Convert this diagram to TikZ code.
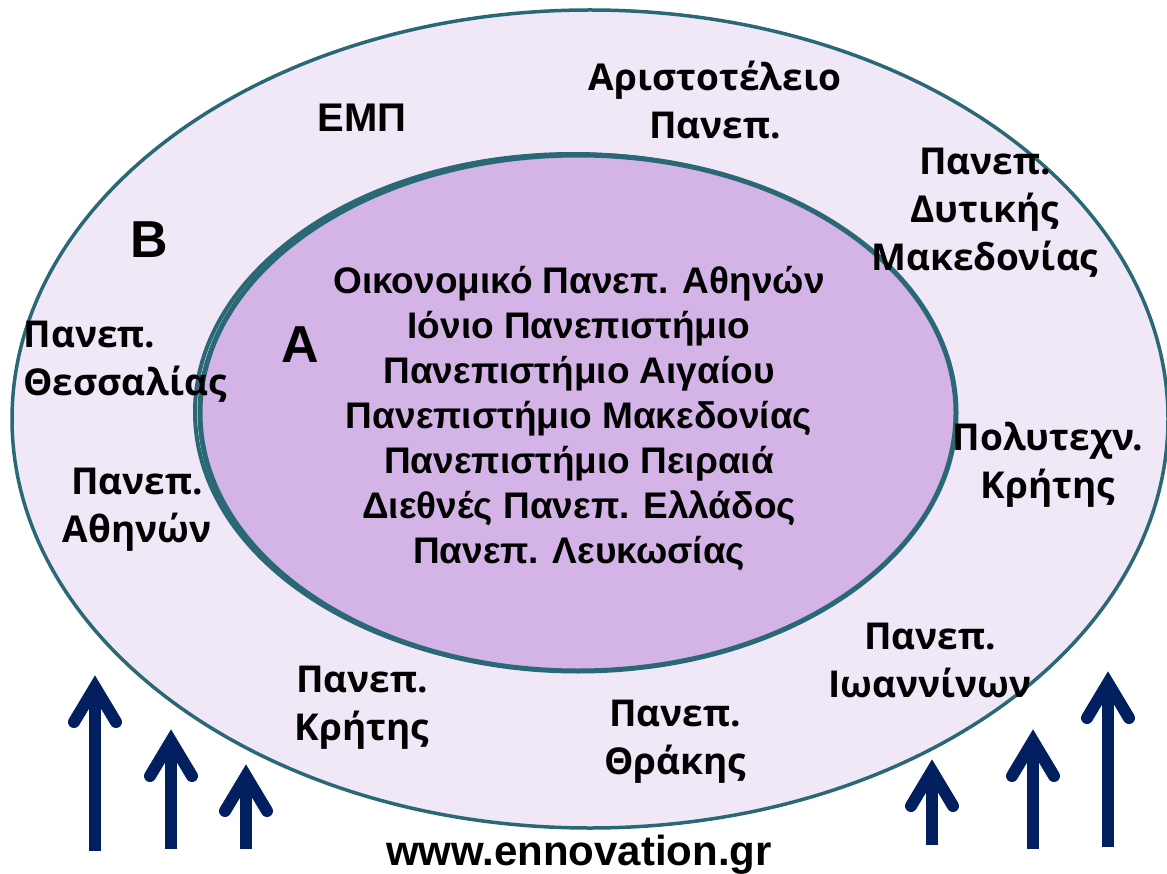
\documentclass[tikz,border=0pt]{standalone}
\usepackage{fontspec}
\setmainfont{Liberation Sans}
\newfontfamily\unifont{Open Sans}
\usetikzlibrary{calc}

\begin{document}
\begin{tikzpicture}[x=1pt, y=-1pt]
      % Define colors
      \definecolor{ringline}{RGB}{43, 104, 118}
      \definecolor{outerfill}{RGB}{240, 231, 247}
      \definecolor{innerfill}{RGB}{212, 180, 230}
      \definecolor{arrownavy}{RGB}{2, 32, 96}

      \tikzset{
        listtext/.style={font=\bfseries\fontsize{37}{45}\selectfont, align=center},
        unitext/.style={font=\unifont\bfseries\fontsize{37}{48}\selectfont, align=center},
        bigletter/.style={font=\bfseries\fontsize{52}{52}\selectfont}
      }

      \useasboundingbox (0,0) rectangle (1167,874);

      % Outer ellipse (B)
      \draw[ringline, fill=outerfill, line width=3.5pt] (590,419) ellipse [x radius=578, y radius=409];

      % Inner ellipse (A), with its shadow outline
      \draw[ringline, line width=4pt] (573,412) ellipse [x radius=378, y radius=258];
      \draw[ringline, fill=innerfill, line width=5pt] (578,413) ellipse [x radius=378, y radius=258];

      % Region letters
      \node[bigletter] (letB) at (149,240) {B};
      \node[bigletter] (letA) at (300,345) {A};

      % Universities in A
      \node[listtext] (listA) at (579,418) {Οικονομικό Πανεπ. Αθηνών\\
        Ιόνιο Πανεπιστήμιο\\
        Πανεπιστήμιο Αιγαίου\\
        Πανεπιστήμιο Μακεδονίας\\
        Πανεπιστήμιο Πειραιά\\
        Διεθνές Πανεπ. Ελλάδος\\
        Πανεπ. Λευκωσίας};

      % Universities in B
      \node[font=\bfseries\fontsize{40}{40}\selectfont] (emp) at (362,118) {ΕΜΠ};
      \node[unitext] (auth) at (715,100) {Αριστοτέλειο\\Πανεπ.};
      \node[unitext] (uowm) at (985,213) {Πανεπ.\\Δυτικής\\Μακεδονίας};
      \node[unitext, align=left, anchor=west] (uth) at (20,362) {Πανεπ.\\Θεσσαλίας};
      \node[unitext] (tuc) at (1048,465) {Πολυτεχν.\\Κρήτης};
      \node[unitext] (uoa) at (137,510) {Πανεπ.\\Αθηνών};
      \node[unitext] (uoi) at (930,660) {Πανεπ.\\Ιωαννίνων};
      \node[unitext] (uoc) at (362,708) {Πανεπ.\\Κρήτης};
      \node[unitext] (duth) at (675,742) {Πανεπ.\\Θράκης};

      % Web address
      \node[font=\bfseries\fontsize{42}{42}\selectfont] (web) at (579,855) {www.ennovation.gr};

      % Upward arrows
      \foreach \x/\ytip/\ybot in {95/675/851, 171/729/849, 246/764/849,
                                 932/759/845, 1033/729/849, 1108/671/847}{
        \draw[arrownavy, line width=12pt] (\x,\ybot) -- (\x,\ytip+14);
        \draw[arrownavy, line width=12pt, line cap=round, line join=miter]
          (\x-21,\ytip+47) -- (\x,\ytip+12) -- (\x+21,\ytip+47);
      }
    \end{tikzpicture}
\end{document}
